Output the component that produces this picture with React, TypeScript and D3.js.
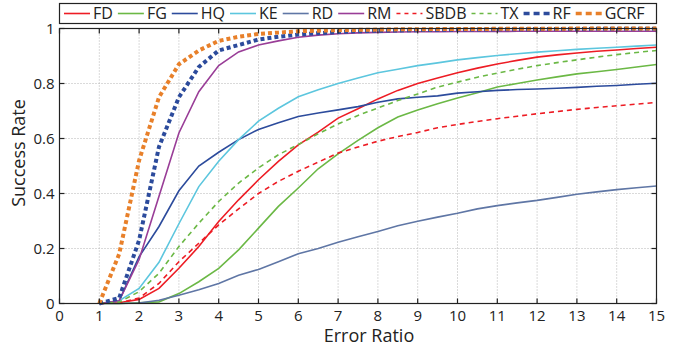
import React, { useRef, useEffect } from "react";
import * as d3 from "d3";

// error ratio thresholds (x)
const errorRatio = [1, 1.5, 2, 2.5, 3, 3.5, 4, 4.5, 5, 5.5, 6, 6.5, 7, 7.5, 8, 8.5, 9, 9.5, 10, 10.5, 11, 11.5, 12, 12.5, 13, 13.5, 14, 14.5, 15];

const FD = [0, 0.003, 0.015, 0.055, 0.128, 0.207, 0.298, 0.377, 0.45, 0.517, 0.577, 0.623, 0.674, 0.708, 0.744, 0.775, 0.8, 0.82, 0.839, 0.856, 0.871, 0.884, 0.896, 0.904, 0.911, 0.917, 0.922, 0.927, 0.932];
const FG = [0, 0, 0.003, 0.006, 0.036, 0.079, 0.128, 0.195, 0.274, 0.353, 0.42, 0.49, 0.544, 0.593, 0.639, 0.678, 0.704, 0.726, 0.747, 0.766, 0.787, 0.8, 0.813, 0.824, 0.835, 0.843, 0.851, 0.86, 0.869];
const HQ = [0, 0.01, 0.17, 0.28, 0.41, 0.5, 0.55, 0.596, 0.633, 0.657, 0.68, 0.693, 0.704, 0.716, 0.732, 0.744, 0.75, 0.755, 0.765, 0.77, 0.775, 0.778, 0.78, 0.783, 0.786, 0.79, 0.793, 0.797, 0.801];
const KE = [0, 0.01, 0.055, 0.15, 0.29, 0.425, 0.517, 0.596, 0.663, 0.71, 0.752, 0.777, 0.8, 0.82, 0.839, 0.852, 0.865, 0.875, 0.886, 0.894, 0.902, 0.908, 0.914, 0.919, 0.924, 0.928, 0.932, 0.936, 0.94];
const RD = [0, 0, 0.002, 0.012, 0.03, 0.05, 0.073, 0.103, 0.124, 0.152, 0.181, 0.2, 0.223, 0.243, 0.262, 0.283, 0.299, 0.314, 0.328, 0.344, 0.356, 0.366, 0.375, 0.386, 0.397, 0.406, 0.414, 0.421, 0.427];
const RM = [0, 0.01, 0.16, 0.39, 0.62, 0.77, 0.865, 0.915, 0.94, 0.955, 0.968, 0.976, 0.981, 0.984, 0.986, 0.987, 0.988, 0.988, 0.989, 0.989, 0.989, 0.99, 0.99, 0.99, 0.99, 0.99, 0.99, 0.99, 0.99];
const SBDB = [0, 0.002, 0.02, 0.073, 0.152, 0.219, 0.286, 0.344, 0.4, 0.444, 0.481, 0.514, 0.547, 0.569, 0.59, 0.607, 0.622, 0.639, 0.651, 0.662, 0.672, 0.681, 0.69, 0.698, 0.706, 0.713, 0.719, 0.725, 0.731];
const TX = [0, 0.005, 0.043, 0.11, 0.207, 0.292, 0.371, 0.438, 0.493, 0.541, 0.578, 0.617, 0.653, 0.684, 0.711, 0.738, 0.762, 0.787, 0.805, 0.823, 0.838, 0.852, 0.865, 0.876, 0.886, 0.896, 0.905, 0.913, 0.92];
const RF = [0, 0.02, 0.23, 0.57, 0.75, 0.86, 0.92, 0.94, 0.96, 0.97, 0.978, 0.983, 0.987, 0.99, 0.992, 0.993, 0.994, 0.995, 0.996, 0.996, 0.997, 0.997, 0.998, 0.998, 0.998, 0.999, 0.999, 0.999, 0.999];
const GCRF = [0, 0.18, 0.52, 0.75, 0.87, 0.92, 0.955, 0.97, 0.98, 0.985, 0.99, 0.992, 0.994, 0.995, 0.996, 0.997, 0.997, 0.998, 0.998, 0.998, 0.999, 0.999, 0.999, 0.999, 1, 1, 1, 1, 1];

const xTicks = [0, 1, 2, 3, 4, 5, 6, 7, 8, 9, 10, 11, 12, 13, 14, 15];
const yTicks = [0, 0.2, 0.4, 0.6, 0.8, 1];

type Series = {
  name: string;
  values: number[];
  color: string;
  width: number;
  dash: string | null;
};

const series: Series[] = [
  { name: "FD", values: FD, color: "#ed1c24", width: 1.6, dash: null },
  { name: "FG", values: FG, color: "#6bb845", width: 1.6, dash: null },
  { name: "HQ", values: HQ, color: "#2c4b9c", width: 1.6, dash: null },
  { name: "KE", values: KE, color: "#5cc6de", width: 1.6, dash: null },
  { name: "RD", values: RD, color: "#5f76a5", width: 1.6, dash: null },
  { name: "RM", values: RM, color: "#993d97", width: 1.6, dash: null },
  { name: "SBDB", values: SBDB, color: "#ed1c24", width: 1.6, dash: "5,4" },
  { name: "TX", values: TX, color: "#6bb845", width: 1.6, dash: "5,4" },
  { name: "RF", values: RF, color: "#2c4b9c", width: 4, dash: "4,3" },
  { name: "GCRF", values: GCRF, color: "#e8802a", width: 4, dash: "4,3" },
];

const W = 689;
const H = 348;
const FONT = "'Open Sans', sans-serif";

const Chart: React.FC = () => {
  const svgRef = useRef<SVGSVGElement | null>(null);

  useEffect(() => {
    const svg = d3.select(svgRef.current);
    svg.selectAll("*").remove();

    const left = 59.5, right = 656.5, top = 28.5, bottom = 303.5;
    const x = d3.scaleLinear().domain([0, 15]).range([left, right]);
    const y = d3.scaleLinear().domain([0, 1]).range([bottom, top]);

    svg.append("rect").attr("width", W).attr("height", H).attr("fill", "#fff");

    // grid
    const grid = svg.append("g").attr("stroke", "#b5b5b5").attr("stroke-width", 1).attr("stroke-dasharray", "1,2");
    xTicks.slice(1, -1).forEach((t) => {
      grid.append("line").attr("x1", x(t)).attr("x2", x(t)).attr("y1", top).attr("y2", bottom);
    });
    yTicks.slice(1, -1).forEach((t) => {
      grid.append("line").attr("x1", left).attr("x2", right).attr("y1", y(t)).attr("y2", y(t));
    });

    // curves
    const line = d3
      .line<number>()
      .x((_, i) => x(errorRatio[i]))
      .y((d) => y(d));

    const plot = svg.append("g");
    series.forEach((s) => {
      const p = plot
        .append("path")
        .attr("d", line(s.values))
        .attr("fill", "none")
        .attr("stroke", s.color)
        .attr("stroke-width", s.width);
      if (s.dash) p.attr("stroke-dasharray", s.dash);
    });

    // frame + inward ticks
    const axes = svg.append("g").attr("stroke", "#222").attr("stroke-width", 1.2);
    axes.append("rect").attr("x", left).attr("y", top).attr("width", right - left).attr("height", bottom - top).attr("fill", "none");
    xTicks.forEach((t) => {
      axes.append("line").attr("x1", x(t)).attr("x2", x(t)).attr("y1", bottom).attr("y2", bottom - 5);
      axes.append("line").attr("x1", x(t)).attr("x2", x(t)).attr("y1", top).attr("y2", top + 5);
    });
    yTicks.forEach((t) => {
      axes.append("line").attr("x1", left).attr("x2", left + 5).attr("y1", y(t)).attr("y2", y(t));
      axes.append("line").attr("x1", right).attr("x2", right - 5).attr("y1", y(t)).attr("y2", y(t));
    });

    // tick labels
    const labels = svg.append("g").attr("font-family", FONT).attr("font-size", 15).attr("fill", "#222");
    xTicks.forEach((t) => {
      labels.append("text").attr("x", x(t)).attr("y", bottom + 17).attr("text-anchor", "middle").text(String(t));
    });
    yTicks.forEach((t) => {
      labels
        .append("text")
        .attr("x", left - 5)
        .attr("y", y(t) + 5)
        .attr("text-anchor", "end")
        .text(d3.format("~g")(t));
    });

    // axis titles
    svg
      .append("text")
      .attr("x", 369)
      .attr("y", 342)
      .attr("text-anchor", "middle")
      .attr("font-family", FONT)
      .attr("font-size", 18)
      .attr("fill", "#222")
      .text("Error Ratio");
    svg
      .append("text")
      .attr("transform", "translate(25,153) rotate(-90)")
      .attr("text-anchor", "middle")
      .attr("font-family", FONT)
      .attr("font-size", 18)
      .attr("fill", "#222")
      .text("Success Rate");

    // legend
    const lg = svg.append("g");
    lg.append("rect").attr("x", 59.5).attr("y", 3.5).attr("width", 597).attr("height", 20).attr("fill", "#fff").attr("stroke", "#222").attr("stroke-width", 1.2);
    let cx = 64;
    series.forEach((s) => {
      const l = lg
        .append("line")
        .attr("x1", cx)
        .attr("x2", cx + 26)
        .attr("y1", 13.5)
        .attr("y2", 13.5)
        .attr("stroke", s.color)
        .attr("stroke-width", s.width === 4 ? 3.5 : 1.6);
      if (s.dash) l.attr("stroke-dasharray", s.width === 4 ? "6,4" : "4,4");
      const txt = lg
        .append("text")
        .attr("x", cx + 29)
        .attr("y", 19)
        .attr("font-family", FONT)
        .attr("font-size", 16)
        .attr("fill", "#222")
        .text(s.name);
      const w = (txt.node() as SVGTextElement).getComputedTextLength();
      cx = cx + 29 + w + 5;
    });
  }, []);

  return <svg ref={svgRef} width={W} height={H} style={{ position: "absolute", left: 0, top: 0 }} />;
};

export default function App() {
  return <Chart />;
}
